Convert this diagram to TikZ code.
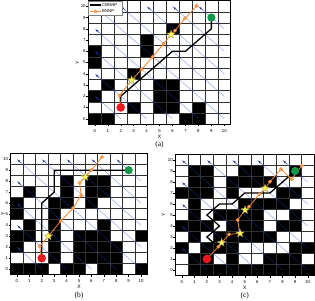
\documentclass[tikz,border=0pt]{standalone}
\usepackage{fontspec}
\setmainfont{Liberation Serif}
\setsansfont{Liberation Sans}
\usetikzlibrary{shapes.geometric,arrows.meta}
\definecolor{gridc}{RGB}{50,50,50}
\definecolor{flowc}{RGB}{40,70,210}
\definecolor{flowtip}{RGB}{30,45,150}
\definecolor{orng}{RGB}{240,130,40}
\definecolor{orngfill}{RGB}{250,170,100}
\definecolor{startc}{RGB}{235,25,30}
\definecolor{goalc}{RGB}{15,150,70}
\definecolor{starfill}{RGB}{255,245,90}
\definecolor{staredge}{RGB}{170,150,60}
\tikzset{
  cellline/.style={draw=gridc, line width=0.45pt},
  gridframe/.style={draw=black, line width=0.6pt},
  flowline/.style={draw=flowc, draw opacity=0.55, line width=0.4pt},
  flowhead/.style={draw=flowtip, line width=0.4pt, -{Stealth[length=2.6pt,width=2.2pt]}},
  cbpath/.style={draw=black, line width=1.3pt, line join=miter},
  bpath/.style={draw=orng, line width=0.8pt},
  omark/.style={circle, fill=orngfill, draw=orng, line width=0.4pt, inner sep=0pt, minimum size=3.4pt},
  ystar/.style={star, star points=5, star point ratio=2.4, fill=starfill, draw=staredge, line width=0.3pt, inner sep=0pt, minimum size=8.5pt},
  startdot/.style={circle, fill=startc, inner sep=0pt, minimum size=8.6pt},
  goaldot/.style={circle, fill=goalc, inner sep=0pt, minimum size=8.2pt},
  ticklab/.style={font=\sffamily\fontsize{4.3}{5}\selectfont, inner sep=0pt},
  axlab/.style={font=\sffamily\fontsize{5}{6}\selectfont, inner sep=0pt},
  caplab/.style={font=\fontsize{7.5}{8}\selectfont, inner sep=0pt},
  legtext/.style={font=\sffamily\fontsize{4.3}{5}\selectfont, inner sep=0pt, anchor=west},
}
\newcommand\drawpanel[3]{%
  \fill[white] (-0.5,-0.5) rectangle (10.5,10.5);
  \foreach \c/\r in {#1} \fill[black] (\c-0.5,\r-0.5) rectangle ++(1,1);
  \foreach \i in {1,...,10} {
    \draw[cellline] (\i-0.5,-0.5) -- (\i-0.5,10.5);
    \draw[cellline] (-0.5,\i-0.5) -- (10.5,\i-0.5);
  }
  \foreach \k in {2,4,...,18} {
    \pgfmathsetmacro\sx{max(0,\k-10)}
    \pgfmathsetmacro\sy{min(\k,10)}
    \pgfmathsetmacro\ex{min(\k,10)}
    \pgfmathsetmacro\ey{max(0,\k-10)}
    \draw[flowline] (\sx,\sy) -- (\ex,\ey);
    \draw[flowhead] (\sx+0.35,\sy-0.35) -- (\sx+0.08,\sy-0.08);
  }
  \draw[gridframe] (-0.5,-0.5) rectangle (10.5,10.5);
  \foreach \i in {0,...,10} {
    \draw[black, line width=0.4pt] (\i,-0.5) -- ++(0,-2pt);
    \draw[black, line width=0.4pt] (-0.5,\i) -- ++(-2pt,0);
    \node[ticklab] (xt#2\i) at ([yshift=-6.5pt]\i,-0.5) {\i};
    \node[ticklab, anchor=east] (yt#2\i) at ([xshift=-2.5pt]-0.5,\i) {\i};
  }
  \node[axlab] (xl#2) at ([yshift=-12pt]5,-0.5) {X};
  \node[axlab, rotate=90] (yl#2) at ([xshift=#3]-0.5,5) {Y};
  \node[caplab] (cap#2) at ([yshift=-20.5pt]5,-0.5) {(#2)};
}
\begin{document}
\begin{tikzpicture}
\useasboundingbox (0,0) rectangle (315pt,-300pt);
\fill[white] (0,0) rectangle (315pt,-300pt);

% ---------- panel (a)
\begin{scope}[shift={(94.8pt,-118.7pt)}, x=12.95pt, y=11.24pt]
  \drawpanel{0/0,1/0,7/0,8/0,8/1,3/1,5/1,6/1,5/2,6/2,5/3,6/3,0/2,1/3,3/4,0/5,0/6,4/6,4/7,6/8}{a}{-11pt}
  \draw[cbpath] (2,1) -- (2,2) -- (6,6) -- (7,6) -- (9,8) -- (9,9);
  \draw[bpath] (2,1) -- (1.9,2.05) -- (2.85,3.44) -- (3.62,4.39) -- (4.47,5.51) -- (5.32,6.67) -- (5.89,7.5) -- (6.19,7.83) -- (6.97,8.93) -- (7.87,10.05);
  \foreach \p/\q [count=\n] in {1.9/2.05,3.62/4.39,4.47/5.51,5.32/6.67,6.19/7.83,6.97/8.93,7.87/10.05}
    \node[omark] (ma\n) at (\p,\q) {};
  \node[ystar] (sa1) at (2.85,3.44) {};
  \node[ystar] (sa2) at (5.89,7.5) {};
  \node[startdot] (starta) at (2,1) {};
  \node[goaldot] (goala) at (9,9) {};
\end{scope}
% legend
\draw[gray, fill=white, line width=0.3pt] (88.6pt,-0.8pt) rectangle (122pt,-15.5pt);
\draw[black, line width=1.3pt] (90pt,-5pt) -- (101pt,-5pt);
\node[legtext] (leg1) at (102pt,-5pt) {CBNNP};
\draw[bpath] (90pt,-11.5pt) -- (101pt,-11.5pt);
\node[omark] (legm) at (95.5pt,-11.5pt) {};
\node[legtext] (leg2) at (102pt,-11.5pt) {BNNP};

% ---------- panel (b)
\begin{scope}[shift={(16.9pt,-269.2pt)}, x=12.42pt, y=11pt]
  \drawpanel{0/6,0/5,0/3,0/2,0/0,
    1/7,1/4,1/3,1/0,
    2/0,
    3/6,3/5,3/4,3/3,3/2,3/1,
    4/8,4/7,4/6,4/0,
    5/3,5/2,5/1,5/0,
    6/8,6/7,6/6,6/3,6/2,6/1,
    7/8,7/7,7/4,7/3,7/2,7/1,7/0,
    8/2,8/1,8/0,
    10/3,10/0}{b}{-7.8pt}
  \draw[cbpath] (2,1) -- (2,6) -- (3,7) -- (3,9) -- (9,9);
  \draw[bpath] (2,1) -- (1.83,2.08) -- (2.55,3.0) -- (3.53,4.38) -- (4.52,5.56) -- (5.18,6.72) -- (5.05,7.86) -- (5.5,8.38) -- (6,9) -- (6.85,10.2);
  \foreach \p/\q [count=\n] in {1.83/2.08,3.53/4.38,4.52/5.56,5.18/6.72,5.05/7.86,6/9,6.85/10.2}
    \node[omark] (mb\n) at (\p,\q) {};
  \node[ystar] (sb1) at (2.55,3.0) {};
  \node[ystar] (sb2) at (5.5,8.38) {};
  \node[startdot] (startb) at (2,1) {};
  \node[goaldot] (goalb) at (9,9) {};
\end{scope}

% ---------- panel (c)
\begin{scope}[shift={(181.7pt,-270pt)}, x=12.6pt, y=11pt]
  \drawpanel{1/9,2/9,5/9,6/9,9/9,
    1/8,2/8,4/8,5/8,6/8,7/8,
    0/7,1/7,2/7,4/7,8/7,9/7,
    1/6,5/6,6/6,7/6,8/6,
    1/5,3/5,4/5,5/5,6/5,9/5,
    0/4,1/4,2/4,4/4,5/4,6/4,8/4,9/4,
    1/3,3/3,4/3,5/3,6/3,7/3,
    0/2,2/2,3/2,4/2,9/2,10/2,
    1/1,2/1,4/1,7/1,8/1,9/1,
    1/0,2/0,3/0,4/0,5/0,6/0,7/0,8/0,9/0,10/0}{c}{-12pt}
  \draw[cbpath] (2,1) -- (3,2) -- (2,3) -- (3,4) -- (2,5) -- (3,6) -- (4,6) -- (5,7) -- (7,7) -- (8,8) -- (9,9);
  \draw[bpath] (2,1) -- (2.91,2.12) -- (3.17,2.48) -- (3.76,3.24) -- (4.63,3.33) -- (4.44,4.55) -- (5.03,5.45) -- (5.34,5.76) -- (6.16,6.88) -- (6.61,7.42) -- (7.01,8.03) -- (7.88,9.18) -- (8.73,8.24) -- (9.52,9.48);
  \foreach \p/\q [count=\n] in {2.91/2.12,3.76/3.24,4.44/4.55,5.34/5.76,6.16/6.88,7.01/8.03,7.88/9.18,8.73/8.24,9.52/9.48}
    \node[omark] (mc\n) at (\p,\q) {};
  \node[ystar] (sc1) at (3.17,2.48) {};
  \node[ystar] (sc2) at (4.63,3.33) {};
  \node[ystar] (sc3) at (5.03,5.45) {};
  \node[ystar] (sc4) at (6.61,7.42) {};
  \node[startdot] (startc) at (2,1) {};
  \node[goaldot] (goalc) at (9,9) {};
\end{scope}
\end{tikzpicture}
\end{document}
